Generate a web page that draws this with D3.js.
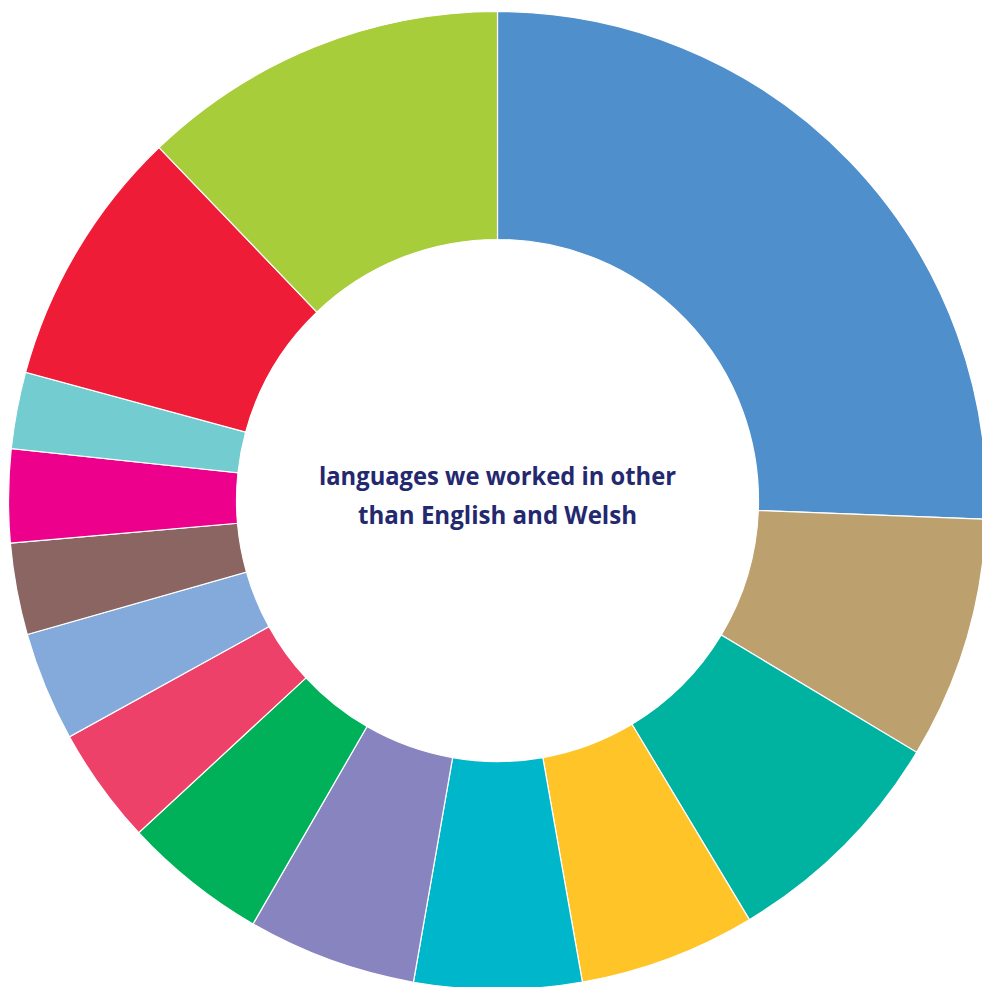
<!DOCTYPE html>
<html>
<head>
<meta charset="utf-8">
<script src="https://cdn.jsdelivr.net/npm/d3@7"></script>
<style>
  body { margin: 0; background: #fff; }
  svg { display: block; }
</style>
</head>
<body>
<script>
// share of each language, in degrees of the ring (clockwise from 12 o'clock)
const languages = ["language 1", "language 2", "language 3", "language 4", "language 5", "language 6", "language 7",
  "language 8", "language 9", "language 10", "language 11", "language 12", "language 13", "language 14"]
const shares = [92.2, 28.8, 28.0, 21.0, 19.9, 20.1, 17.2, 13.9, 13.0, 10.9, 11.1, 9.1, 31.0, 43.8]
const colours = ["#4f8fcb", "#bca06d", "#00b3a0", "#ffc428", "#00b6cb", "#8884bf", "#00b159",
  "#ee4169", "#83aadb", "#8a6562", "#ec008c", "#72ccd0", "#ee1c36", "#a8cd3a"]
const centreLines = ["languages we worked in other", "than English and Welsh"]

const width = 982, height = 987
const cx = 497.5, cy = 500.5
const outerR = 489, innerR = 261

const svg = d3.select("body").append("svg")
  .attr("width", width).attr("height", height)

const g = svg.append("g").attr("transform", "translate(" + cx + "," + cy + ")")

const data = languages.map((name, i) => ({ name: name, value: shares[i], colour: colours[i] }))

const pie = d3.pie().sort(null).value(d => d.value)
const arc = d3.arc().innerRadius(innerR).outerRadius(outerR)

g.selectAll("path")
  .data(pie(data)).enter().append("path")
  .attr("d", arc)
  .attr("fill", d => d.data.colour)
  .attr("stroke", "#fff")
  .attr("stroke-width", 1.2)

// centre label, squeezed a bit to look like the condensed face in the original
const label = g.append("text")
  .attr("text-anchor", "middle")
  .attr("fill", "#23286f")
  .style("font-family", "'Open Sans', sans-serif")
  .style("font-weight", 700)
  .style("font-size", "25.5px")

const lineWidths = [357, 279]
const baselines = [-16, 23]
centreLines.forEach((t, i) => {
  label.append("tspan")
    .attr("x", 0).attr("y", baselines[i])
    .attr("textLength", lineWidths[i])
    .attr("lengthAdjust", "spacingAndGlyphs")
    .text(t)
})
</script>
</body>
</html>
